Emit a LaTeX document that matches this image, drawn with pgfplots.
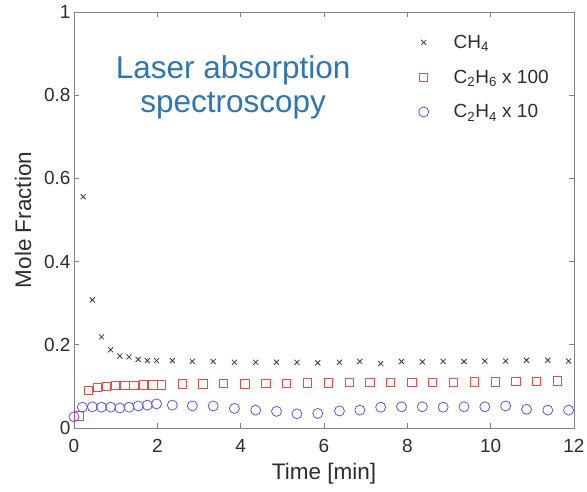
\documentclass[border=0pt]{standalone}
\usepackage{fontspec}
\setmainfont{Liberation Sans}
\usepackage{pgfplots}
\pgfplotsset{compat=1.18}
\definecolor{cmeth}{RGB}{60,60,60}
\definecolor{ceth}{RGB}{240,70,70}
\definecolor{cethy}{RGB}{85,85,250}
\definecolor{ctitle}{RGB}{46,117,182}
\definecolor{caxis}{RGB}{130,130,130}
\definecolor{ctext}{RGB}{45,45,45}
\pgfplotsset{myleg/.style={legend image code/.code={%
  \path[draw=none,fill=none] (0pt,-4pt) rectangle (50pt,4pt);
  \draw[mark repeat=2,mark phase=2,##1] plot coordinates {(0pt,0pt) (22pt,0pt) (44pt,0pt)};}}}

\begin{document}
\begin{tikzpicture}
\useasboundingbox (-74pt,-63pt) rectangle (513pt,428pt);
\begin{axis}[
  at={(0pt,0pt)}, anchor=origin,
  scale only axis, width=500pt, height=416pt,
  xmin=0, xmax=12, ymin=0, ymax=1,
  xtick={0,2,...,12}, ytick={0,0.2,...,1},
  tick align=inside, major tick length=5pt,
  axis line style={draw=caxis, line width=0.8pt},
  tick style={draw=caxis, line width=0.8pt},
  /pgf/number format/assume math mode=true,
  tick label style={font=\fontsize{19}{22}\selectfont, text=ctext},
  xticklabel style={yshift=-8pt},
  label style={font=\fontsize{22.5}{26}\selectfont, text=ctext},
  xlabel={Time [min]}, ylabel={Mole Fraction},
  xlabel style={at={(axis description cs:0.5,-0.11)}, anchor=center},
  ylabel style={at={(axis description cs:-0.102,0.5)}, anchor=center},
  legend style={at={(axis description cs:0.655,0.95)}, anchor=north west, draw=none, fill=none,
    inner sep=0pt, font=\fontsize{19}{22}\selectfont, text=ctext, row sep=16pt},
  legend cell align=left,
]
\addplot[only marks, mark=x, mark size=3.6pt, color=cmeth, line width=0.8pt,
  mark options={draw=cmeth, fill=none}, myleg] coordinates {
(0.22,0.556) (0.44,0.308) (0.66,0.219) (0.88,0.188) (1.10,0.173) (1.32,0.171) (1.54,0.165)
(1.76,0.162) (1.98,0.162) (2.36,0.162) (2.84,0.160) (3.34,0.160) (3.85,0.158) (4.36,0.158)
(4.86,0.158) (5.35,0.158) (5.85,0.157) (6.37,0.158) (6.86,0.160) (7.36,0.155) (7.86,0.160)
(8.36,0.159) (8.86,0.160) (9.36,0.160) (9.86,0.161) (10.36,0.161) (10.86,0.163) (11.37,0.163)
(11.87,0.161)};
\addplot[only marks, mark=square*, mark size=4.2pt, color=ceth, line width=0.8pt,
  mark options={draw=ceth, fill=white}, myleg] coordinates {
(0.12,0.029) (0.34,0.090) (0.56,0.097) (0.78,0.100) (1.00,0.103) (1.22,0.103) (1.44,0.103)
(1.66,0.104) (1.89,0.104) (2.10,0.104) (2.60,0.106) (3.09,0.106) (3.59,0.107) (4.10,0.106)
(4.61,0.107) (5.10,0.107) (5.60,0.108) (6.10,0.108) (6.61,0.109) (7.10,0.109) (7.60,0.110)
(8.11,0.110) (8.60,0.110) (9.11,0.110) (9.61,0.111) (10.11,0.111) (10.61,0.112) (11.10,0.112)
(11.60,0.113)};
\addplot[only marks, mark=o, mark size=5pt, color=cethy, line width=0.8pt,
  mark options={draw=cethy, fill=none}, myleg] coordinates {
(0.00,0.027) (0.20,0.050) (0.44,0.051) (0.66,0.050) (0.88,0.050) (1.10,0.048) (1.32,0.050)
(1.54,0.053) (1.76,0.055) (1.98,0.058) (2.36,0.055) (2.84,0.053) (3.34,0.053) (3.85,0.047)
(4.36,0.043) (4.86,0.040) (5.35,0.034) (5.85,0.035) (6.37,0.041) (6.86,0.043) (7.36,0.050)
(7.86,0.051) (8.36,0.051) (8.86,0.050) (9.36,0.051) (9.86,0.051) (10.36,0.053) (10.86,0.045)
(11.37,0.043) (11.87,0.043)};
\legend{CH\textsubscript{4}, C\textsubscript{2}H\textsubscript{6} x 100, C\textsubscript{2}H\textsubscript{4} x 10}
\node[align=center, text=ctitle, font=\fontsize{31.5}{34}\selectfont] at (axis cs:3.82,0.818)
  {Laser absorption\\spectroscopy};
\end{axis}
\end{tikzpicture}
\end{document}
